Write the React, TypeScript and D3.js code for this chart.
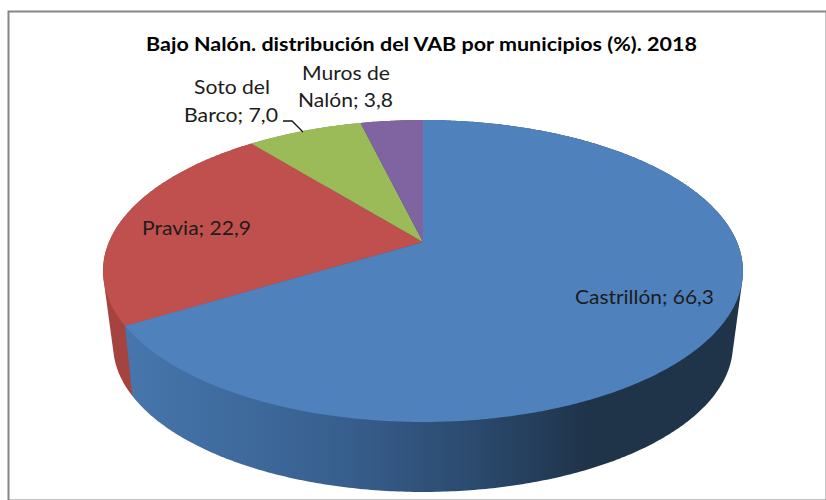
import React from 'react'
import * as d3 from 'd3'

const municipios = ['Castrillón', 'Pravia', 'Soto del Barco', 'Muros de Nalón']
const valores = [66.3, 22.9, 7.0, 3.8]
const valorLabels = ['66,3', '22,9', '7,0', '3,8']
const colores = ['#4f81bd', '#c0504d', '#9bbb59', '#8064a2']
const titulo = 'Bajo Nalón. distribución del VAB por municipios (%). 2018'

const width = 826
const height = 500

// perspective used to turn the flat pie into the tilted disc
const topDisc = { cy: 242, R: 314, S: 145.4, k: 0.192 }
const bottomDisc = { cy: 314.1, R: 303, S: 140.5, k: 0.21 }
const cx = 423

function project (angle: number, r: number, disc: typeof topDisc): [number, number] {
  const u = r * Math.sin(angle)
  const v = -r * Math.cos(angle)
  const w = 1 - disc.k * v
  return [cx + disc.R * u / w, disc.cy + disc.S * v / w]
}

function arcPoints (a0: number, a1: number, disc: typeof topDisc) {
  const n = Math.max(2, Math.ceil((a1 - a0) / 0.01))
  return d3.range(n + 1).map(i => project(a0 + (a1 - a0) * i / n, 1, disc))
}

const line = d3.line()

function App () {
  const pie = d3.pie<number>().sort(null).value(d => d)
  const arcs = pie(valores)
  const sideFill = ['url(#sideBlue)', '#a4433f', '#7f9a48', '#67508a']

  return (
    <svg width={width} height={height} style={{ position: 'absolute', left: 0, top: 0 }}>
      <defs>
        <linearGradient id='sideBlue' gradientUnits='userSpaceOnUse' x1={127} x2={590} y1={0} y2={0}>
          <stop offset='0%' stopColor='#4676ad' />
          <stop offset='45%' stopColor='#38608f' />
          <stop offset='75%' stopColor='#2b4a6e' />
          <stop offset='100%' stopColor='#1f3349' />
        </linearGradient>
      </defs>
      <rect x={8.5} y={11.5} width={818} height={489} fill='#fff' stroke='#868686' strokeWidth={2} />
      <text x={421.5} y={50.5} textAnchor='middle' fontFamily='Lato' fontWeight={700} fontSize={18} fill='#000' textLength={551} lengthAdjust='spacingAndGlyphs'>{titulo}</text>

      {/* hull of both rims gives the straight silhouette edges; the tops hide the rest */}
      {arcs.map((d, i) => (
        <path
          key={'side' + i}
          d={line(d3.polygonHull([...arcPoints(d.startAngle, d.endAngle, topDisc), ...arcPoints(d.startAngle, d.endAngle, bottomDisc)])!) + 'Z'}
          fill={sideFill[i]}
        />
      )).reverse()}
      {arcs.map((d, i) => (
        <path
          key={'top' + i}
          d={line([project(0, 0, topDisc), ...arcPoints(d.startAngle, d.endAngle, topDisc)]) + 'Z'}
          fill={colores[i]}
        />
      ))}

      <path d='M283 121 L292 121 L303 132' fill='none' stroke='#111' strokeWidth={1.3} />

      <g fontFamily='Lato' fontSize={19} fill='#1c1c1c' textAnchor='middle'>
        <text x={644.5} y={304} textLength={139} lengthAdjust='spacingAndGlyphs'>{municipios[0]}; {valorLabels[0]}</text>
        <text x={196.5} y={235} textLength={109} lengthAdjust='spacingAndGlyphs'>{municipios[1]}; {valorLabels[1]}</text>
        <text x={232} y={94} textLength={76} lengthAdjust='spacingAndGlyphs'>Soto del</text>
        <text x={231} y={122} textLength={94} lengthAdjust='spacingAndGlyphs'>Barco; {valorLabels[2]}</text>
        <text x={346} y={80} textLength={88} lengthAdjust='spacingAndGlyphs'>Muros de</text>
        <text x={345.5} y={107} textLength={95} lengthAdjust='spacingAndGlyphs'>Nalón; {valorLabels[3]}</text>
      </g>
    </svg>
  )
}

export default App
